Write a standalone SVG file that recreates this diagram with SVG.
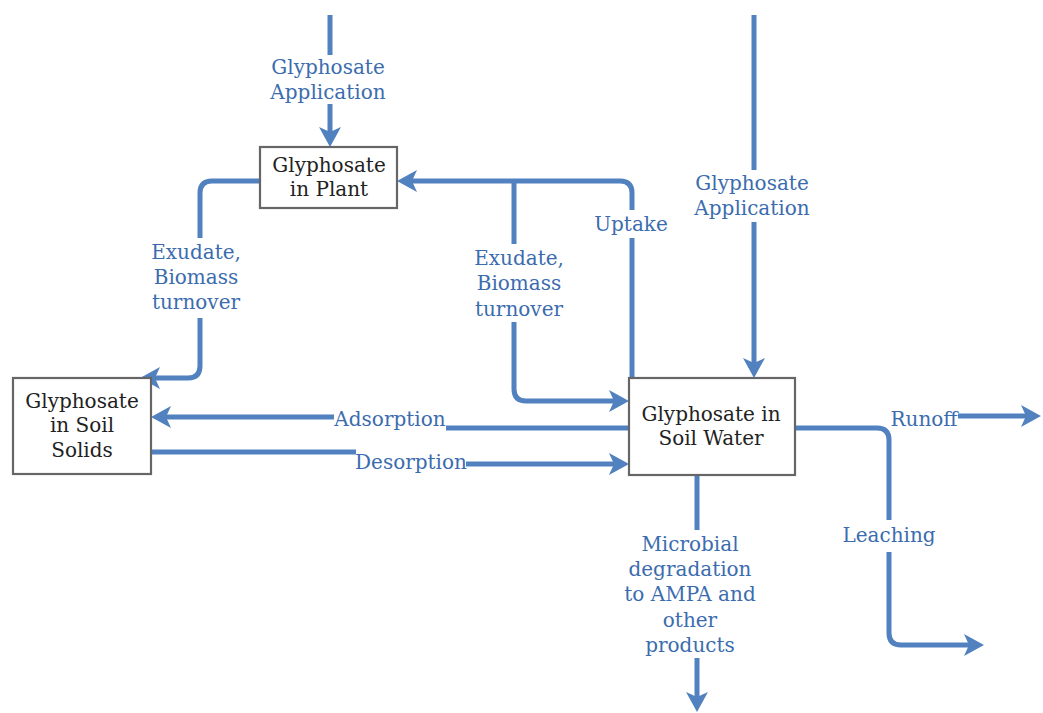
<svg xmlns="http://www.w3.org/2000/svg" width="1043" height="713" viewBox="0 0 1043 713">
<defs>
<marker id="ah" viewBox="0 0 20 22" refX="10" refY="11" markerWidth="20" markerHeight="22" markerUnits="userSpaceOnUse" orient="auto">
<path d="M0,0 L20,11 L0,22 L5,11 Z" fill="#5181bf"/>
</marker>
</defs>
<rect width="1043" height="713" fill="#fff"/>
<g id="connectors" fill="none" stroke="#5181bf" stroke-width="5">
<path d="M330,15 V55"/>
<path d="M330,104 V137" marker-end="url(#ah)"/>
<path d="M754,15 V170"/>
<path d="M754,222 V368" marker-end="url(#ah)"/>
<path d="M260,181 H212 Q200,181 200,193 V238"/>
<path d="M200,318 V366 Q200,378 188,378 H150" marker-end="url(#ah)"/>
<path d="M632,378 V238"/>
<path d="M632,210 V193 Q632,181 620,181 H407" marker-end="url(#ah)"/>
<path d="M514,181 V244"/>
<path d="M514,322 V389 Q514,401 526,401 H619" marker-end="url(#ah)"/>
<path d="M629,428 H446"/>
<path d="M334,417 H161" marker-end="url(#ah)"/>
<path d="M151,452 H356"/>
<path d="M466,464 H619" marker-end="url(#ah)"/>
<path d="M795,428 H877 Q889,428 889,440 V520"/>
<path d="M958,416 H1031" marker-end="url(#ah)"/>
<path d="M889,552 V633 Q889,645 901,645 H974" marker-end="url(#ah)"/>
<path d="M697,475 V530"/>
<path d="M697,658 V702" marker-end="url(#ah)"/>
</g>
<g id="plant">
<rect x="260" y="147" width="137" height="61" fill="#fff" stroke="#666" stroke-width="2.2"/>
<text x="329" y="172" font-family="DejaVu Serif" font-size="20" text-anchor="middle" fill="#222">Glyphosate</text>
<text x="329" y="196" font-family="DejaVu Serif" font-size="20" text-anchor="middle" fill="#222">in Plant</text>
</g>
<g id="solids">
<rect x="13" y="378" width="138" height="96" fill="#fff" stroke="#666" stroke-width="2.2"/>
<text x="82" y="408" font-family="DejaVu Serif" font-size="20" text-anchor="middle" fill="#222">Glyphosate</text>
<text x="82" y="432" font-family="DejaVu Serif" font-size="20" text-anchor="middle" fill="#222">in Soil</text>
<text x="82" y="457" font-family="DejaVu Serif" font-size="20" text-anchor="middle" fill="#222">Solids</text>
</g>
<g id="water">
<rect x="629" y="378" width="166" height="97" fill="#fff" stroke="#666" stroke-width="2.2"/>
<text x="711" y="421" font-family="DejaVu Serif" font-size="20" text-anchor="middle" fill="#222">Glyphosate in</text>
<text x="711" y="445" font-family="DejaVu Serif" font-size="20" text-anchor="middle" fill="#222">Soil Water</text>
</g>
<g id="labels" fill="#3b6cae">
<text x="328" y="74" font-family="DejaVu Serif" font-size="20" text-anchor="middle">Glyphosate</text>
<text x="328" y="99" font-family="DejaVu Serif" font-size="20" text-anchor="middle">Application</text>
<text x="752" y="190" font-family="DejaVu Serif" font-size="20" text-anchor="middle">Glyphosate</text>
<text x="752" y="215" font-family="DejaVu Serif" font-size="20" text-anchor="middle">Application</text>
<text x="196" y="259" font-family="DejaVu Serif" font-size="20" text-anchor="middle">Exudate,</text>
<text x="196" y="284" font-family="DejaVu Serif" font-size="20" text-anchor="middle">Biomass</text>
<text x="196" y="309" font-family="DejaVu Serif" font-size="20" text-anchor="middle">turnover</text>
<text x="631" y="231" font-family="DejaVu Serif" font-size="20" text-anchor="middle">Uptake</text>
<text x="519" y="265" font-family="DejaVu Serif" font-size="20" text-anchor="middle">Exudate,</text>
<text x="519" y="290" font-family="DejaVu Serif" font-size="20" text-anchor="middle">Biomass</text>
<text x="519" y="316" font-family="DejaVu Serif" font-size="20" text-anchor="middle">turnover</text>
<text x="390" y="426" font-family="DejaVu Serif" font-size="20" text-anchor="middle">Adsorption</text>
<text x="411" y="469" font-family="DejaVu Serif" font-size="20" text-anchor="middle">Desorption</text>
<text x="924" y="426" font-family="DejaVu Serif" font-size="20" text-anchor="middle">Runoff</text>
<text x="889" y="542" font-family="DejaVu Serif" font-size="20" text-anchor="middle">Leaching</text>
<text x="690" y="551" font-family="DejaVu Serif" font-size="20" text-anchor="middle">Microbial</text>
<text x="690" y="576" font-family="DejaVu Serif" font-size="20" text-anchor="middle">degradation</text>
<text x="690" y="601" font-family="DejaVu Serif" font-size="20" text-anchor="middle">to AMPA and</text>
<text x="690" y="627" font-family="DejaVu Serif" font-size="20" text-anchor="middle">other</text>
<text x="690" y="652" font-family="DejaVu Serif" font-size="20" text-anchor="middle">products</text>
</g>
</svg>
